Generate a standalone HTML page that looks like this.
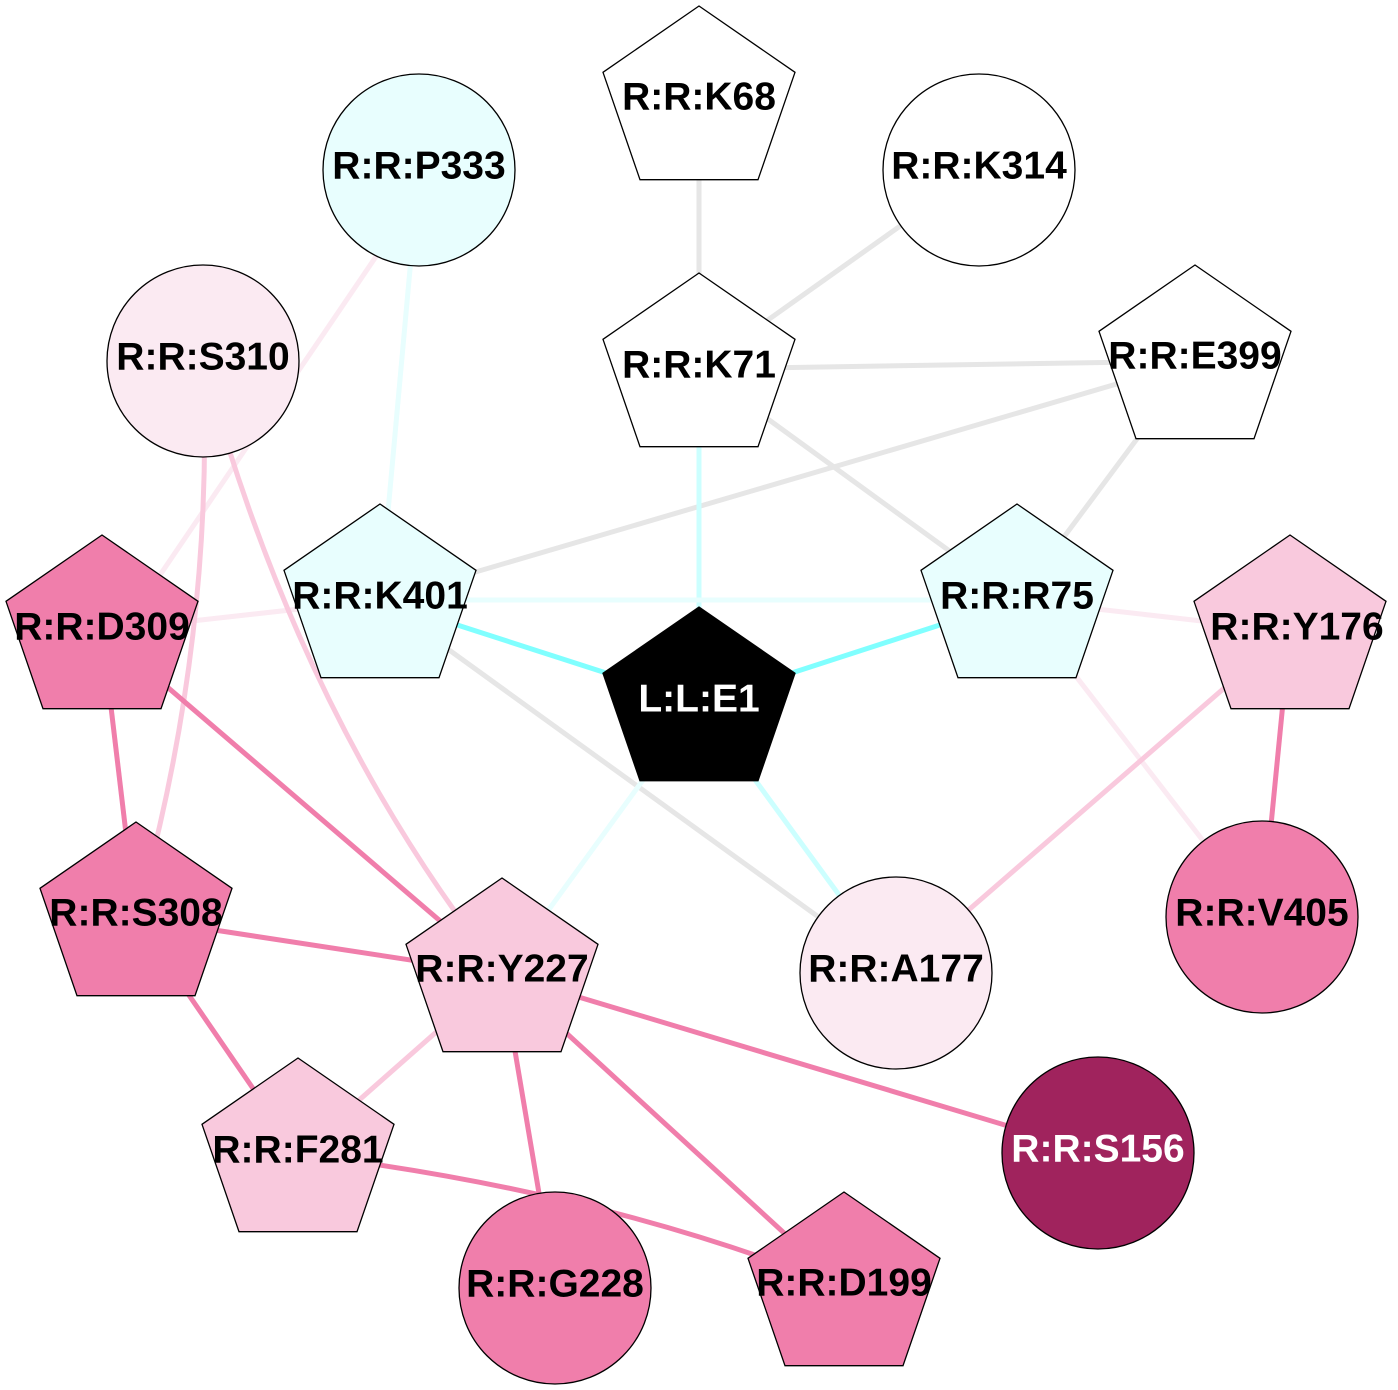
<!DOCTYPE html>
<html><head><meta charset="utf-8"><style>
html,body{margin:0;padding:0;background:#fff}
svg{display:block}
text{font-family:"Liberation Sans",Arial,sans-serif;font-weight:bold;font-size:39px;text-anchor:middle;dominant-baseline:central}
</style></head><body>
<svg width="1398" height="1390" viewBox="0 0 1398 1390" xmlns="http://www.w3.org/2000/svg">
<defs>
<polygon id="pg" points="0,-96 96,-29.7 59,77.7 -59,77.7 -96,-29.7" stroke="#000" stroke-width="1.3"/>
</defs>
<g fill="none" stroke-width="5">
<g stroke="#e6e6e6">
<line x1="699" y1="102" x2="699" y2="369"/>
<line x1="979" y1="170" x2="699" y2="369"/>
<line x1="699" y1="369" x2="1195" y2="361"/>
<line x1="699" y1="369" x2="1017" y2="600"/>
<line x1="1195" y1="361" x2="380" y2="600"/>
<line x1="1195" y1="361" x2="1017" y2="600"/>
<line x1="380" y1="600" x2="896" y2="973"/>
</g>
<line x1="699" y1="703" x2="380" y2="600" stroke="#80ffff"/>
<line x1="699" y1="703" x2="1017" y2="600" stroke="#80ffff"/>
<line x1="699" y1="703" x2="699" y2="369" stroke="#ccffff"/>
<line x1="699" y1="703" x2="896" y2="973" stroke="#ccffff"/>
<line x1="380" y1="600" x2="1017" y2="600" stroke="#e8fefe"/>
<line x1="419" y1="170" x2="380" y2="600" stroke="#e8fefe"/>
<line x1="699" y1="703" x2="502" y2="974" stroke="#e8fefe"/>
<g stroke="#fbeaf2">
<line x1="394" y1="230" x2="120" y2="634"/>
<line x1="102" y1="631" x2="380" y2="600"/>
<line x1="1017" y1="600" x2="1290" y2="631"/>
<line x1="1017" y1="600" x2="1262" y2="917"/>
</g>
<g stroke="#f9c9dd">
<path d="M203,361 Q215,640 136,918"/>
<path d="M203,361 Q300,720 502,974"/>
<line x1="1290" y1="631" x2="896" y2="973"/>
<line x1="502" y1="974" x2="298" y2="1154"/>
</g>
<g stroke="#f07eab">
<line x1="1290" y1="631" x2="1262" y2="917"/>
<line x1="102" y1="631" x2="136" y2="918"/>
<line x1="102" y1="631" x2="502" y2="974"/>
<line x1="136" y1="918" x2="502" y2="974"/>
<line x1="136" y1="918" x2="298" y2="1154"/>
<line x1="502" y1="974" x2="555" y2="1288"/>
<line x1="502" y1="974" x2="844" y2="1288"/>
<line x1="502" y1="974" x2="1098" y2="1153"/>
<path d="M298,1154 Q600,1190 844,1288"/>
</g>
</g>
<g stroke="#000" stroke-width="1.3">
<circle cx="979" cy="170" r="96" fill="#fff"/>
<circle cx="419" cy="170" r="96" fill="#e8fefe"/>
<circle cx="203" cy="361" r="96" fill="#fbeaf2"/>
<circle cx="896" cy="973" r="96" fill="#fbeaf2"/>
<circle cx="1262" cy="917" r="96" fill="#f07eab"/>
<circle cx="1098" cy="1153" r="96" fill="#a0235d"/>
<circle cx="555" cy="1288" r="96" fill="#f07eab"/>
</g>
<use href="#pg" x="699" y="102" fill="#fff"/>
<use href="#pg" x="699" y="369" fill="#fff"/>
<use href="#pg" x="1195" y="361" fill="#fff"/>
<use href="#pg" x="380" y="600" fill="#e8fefe"/>
<use href="#pg" x="1017" y="600" fill="#e8fefe"/>
<use href="#pg" x="102" y="631" fill="#f07eab"/>
<use href="#pg" x="1290" y="631" fill="#f9c9dd"/>
<use href="#pg" x="699" y="703" fill="#000"/>
<use href="#pg" x="136" y="918" fill="#f07eab"/>
<use href="#pg" x="502" y="974" fill="#f9c9dd"/>
<use href="#pg" x="298" y="1154" fill="#f9c9dd"/>
<use href="#pg" x="844" y="1288" fill="#f07eab"/>
<text x="699" y="97">R:R:K68</text>
<text x="979" y="166">R:R:K314</text>
<text x="419" y="166">R:R:P333</text>
<text x="203" y="357">R:R:S310</text>
<text x="699" y="365">R:R:K71</text>
<text x="1195" y="356">R:R:E399</text>
<text x="380" y="596">R:R:K401</text>
<text x="1017" y="596">R:R:R75</text>
<text x="102" y="627">R:R:D309</text>
<text x="1297" y="627">R:R:Y176</text>
<text x="699" y="699" fill="#fff">L:L:E1</text>
<text x="136" y="913">R:R:S308</text>
<text x="502" y="969">R:R:Y227</text>
<text x="896" y="969">R:R:A177</text>
<text x="1262" y="913">R:R:V405</text>
<text x="298" y="1150">R:R:F281</text>
<text x="1098" y="1149" fill="#fff">R:R:S156</text>
<text x="555" y="1284">R:R:G228</text>
<text x="844" y="1283">R:R:D199</text>
</svg>
</body></html>
